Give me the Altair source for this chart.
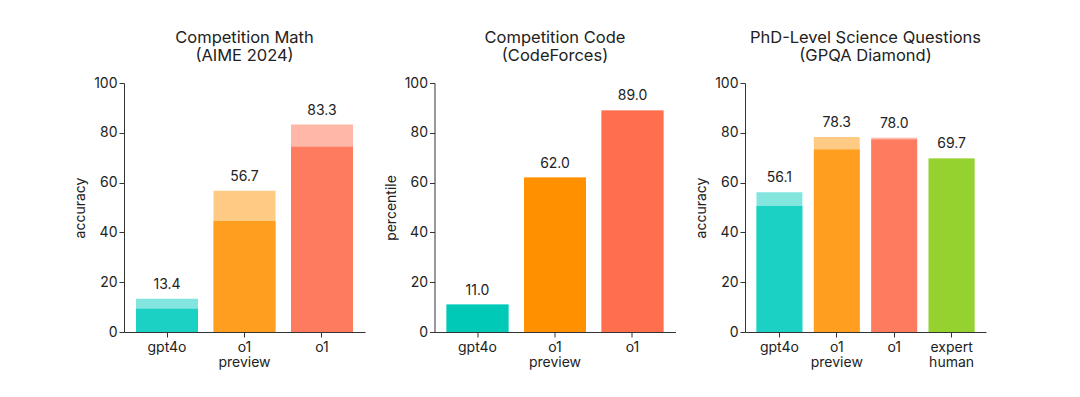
import altair as alt
import pandas as pd

math_models = ["gpt4o", "o1 preview", "o1"]
math_consensus = [13.4, 56.7, 83.3]
math_pass1 = [9.3, 44.6, 74.4]

code_models = ["gpt4o", "o1 preview", "o1"]
code_values = [11.0, 62.0, 89.0]

gpqa_models = ["gpt4o", "o1 preview", "o1", "expert human"]
gpqa_consensus = [56.1, 78.3, 78.0, 69.7]
gpqa_pass1 = [50.6, 73.3, 77.3, 69.7]

main_colors = ["#1BD1C3", "#FF9E1F", "#FF7B5F", "#95D12F"]
code_colors = ["#00C9B8", "#FF9100", "#FF6F4D"]

FONT = "Inter"


def panel(models, cons, pass1, colors, title_lines, ytitle, pad_outer):
    df = pd.DataFrame({"model": models, "cons": cons, "pass1": pass1})
    x = alt.X(
        "model:N",
        sort=models,
        scale=alt.Scale(paddingInner=0.2, paddingOuter=pad_outer),
        axis=alt.Axis(
            title=None,
            labelAngle=0,
            labelExpr="split(datum.label, ' ')",
            labelFontSize=14,
            labelLineHeight=15,
            labelPadding=3,
            tickSize=5,
        ),
    )
    color = alt.Color(
        "model:N", scale=alt.Scale(domain=models, range=colors[: len(models)]), legend=None
    )
    yscale = alt.Scale(domain=[0, 100])
    yaxis = alt.Axis(
        values=[0, 20, 40, 60, 80, 100],
        title=ytitle,
        grid=False,
        labelFontSize=14,
        tickSize=5,
        titleFontSize=14,
        titleFontWeight="normal",
        titlePadding=6,
    )
    base = alt.Chart(df)
    light = base.mark_bar(opacity=0.55).encode(
        x=x, y=alt.Y("cons:Q", scale=yscale, axis=yaxis), color=color
    )
    solid = base.mark_bar().encode(x=x, y=alt.Y("pass1:Q", scale=yscale), color=color)
    labels = base.mark_text(
        baseline="bottom", dy=-7, fontSize=14, font=FONT, color="#222"
    ).encode(x=x, y=alt.Y("cons:Q", scale=yscale), text=alt.Text("cons:Q", format=".1f"))
    return (
        alt.layer(light, solid, labels)
        .resolve_scale(color="independent")
        .properties(
            width=241,
            height=249,
            title=alt.TitleParams(
                title_lines,
                fontSize=16.5,
                fontWeight="normal",
                anchor="middle",
                frame="group",
                offset=12,
                lineHeight=18,
                color="#222",
                font=FONT,
            ),
        )
    )


p1 = panel(math_models, math_consensus, math_pass1, main_colors,
           ["Competition Math", "(AIME 2024)"], "accuracy", 0.155)
p2 = panel(code_models, code_values, code_values, code_colors,
           ["Competition Code", "(CodeForces)"], "percentile", 0.155)
p3 = panel(gpqa_models, gpqa_consensus, gpqa_pass1, main_colors,
           ["PhD-Level Science Questions", "(GPQA Diamond)"], "accuracy", 0.2)

chart = (
    alt.hconcat(p1, p2, p3, spacing=18.5)
    .resolve_scale(color="independent")
    .properties(padding={"left": 65, "top": 21, "right": 5, "bottom": 5})
    .configure_view(stroke=None)
    .configure_axis(
        domainColor="#333",
        tickColor="#333",
        labelColor="#222",
        titleColor="#222",
        labelFont=FONT,
        titleFont=FONT,
    )
)

chart.save("out.html", embed_options={"renderer": "svg", "actions": False})
